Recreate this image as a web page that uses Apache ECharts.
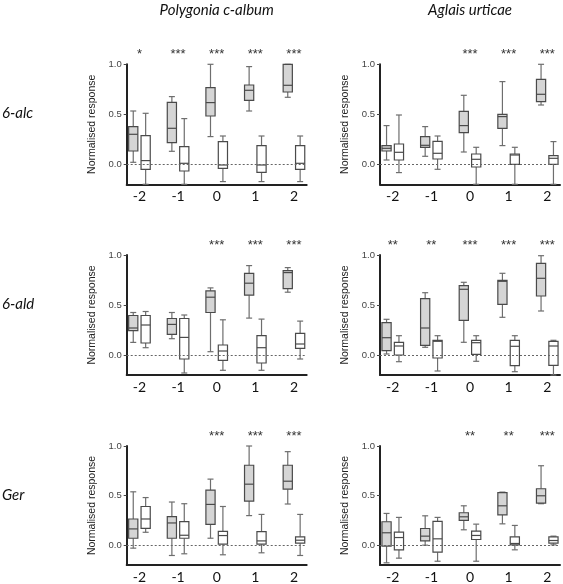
<!DOCTYPE html>
<html>
<head>
<meta charset="utf-8">
<script src="https://cdn.jsdelivr.net/npm/echarts@6/dist/echarts.min.js"></script>
<style>
html,body{margin:0;padding:0;background:#fff;}
#chart{width:563px;height:584px;}
</style>
</head>
<body>
<div id="chart"></div>
<script>
// Categories (time points) and axis ticks
const categories = [-2, -1, 0, 1, 2];
const yTickValues = [0, 0.5, 1.0];
const columnTitles = ["Polygonia c-album", "Aglais urticae"];
const rowTitles = ["6-alc", "6-ald", "Ger"];

// Box data: [min, Q1, median, Q3, max] per category
const polyAlcGray  = [[0.02,0.133,0.30,0.377,0.533],[0.13,0.217,0.36,0.62,0.677],[0.277,0.483,0.617,0.767,1.0],[0.533,0.64,0.74,0.793,0.977],[0.67,0.723,0.79,1.0,1.0]];
const polyAlcWhite = [[-0.2,-0.05,0.037,0.287,0.51],[-0.2,-0.067,0.01,0.177,0.457],[-0.173,-0.04,-0.007,0.227,0.283],[-0.173,-0.08,-0.007,0.187,0.283],[-0.173,-0.05,0.01,0.187,0.283]];
const aglAlcGray   = [[0.043,0.133,0.16,0.187,0.387],[0.08,0.17,0.19,0.277,0.377],[0.123,0.317,0.387,0.53,0.69],[0.187,0.36,0.477,0.5,0.827],[0.593,0.627,0.70,0.85,1.0]];
const aglAlcWhite  = [[-0.083,0.043,0.12,0.203,0.493],[-0.05,0.053,0.11,0.23,0.283],[-0.2,-0.027,0.05,0.103,0.17],[-0.2,0.0,0.093,0.103,0.17],[-0.2,0.0,0.06,0.087,0.227]];
const polyAldGray  = [[0.126,0.243,0.27,0.395,0.425],[0.163,0.206,0.306,0.365,0.425],[0.033,0.425,0.578,0.641,0.671],[0.369,0.598,0.718,0.817,0.894],[0.628,0.664,0.824,0.844,0.874]];
const polyAldWhite = [[0.073,0.12,0.30,0.395,0.435],[-0.18,-0.04,0.176,0.365,0.40],[-0.153,-0.053,0.04,0.10,0.352],[-0.153,-0.08,0.073,0.193,0.359],[-0.04,0.066,0.11,0.216,0.339]];
const aglAldGray   = [[0.01,0.043,0.173,0.323,0.357],[0.077,0.097,0.27,0.563,0.623],[0.127,0.347,0.657,0.693,0.727],[0.377,0.507,0.737,0.747,0.817],[0.44,0.59,0.767,0.917,0.993]];
const aglAldWhite  = [[-0.067,0.0,0.09,0.127,0.193],[-0.16,-0.03,0.137,0.147,0.193],[-0.063,0.007,0.123,0.147,0.193],[-0.167,-0.107,0.087,0.147,0.193],[-0.2,-0.103,0.09,0.137,0.147]];
const polyGerGray  = [[-0.03,0.07,0.164,0.264,0.538],[-0.104,0.07,0.224,0.288,0.435],[0.07,0.21,0.411,0.555,0.666],[0.298,0.445,0.615,0.806,1.0],[0.415,0.565,0.645,0.806,0.943]];
const polyGerWhite = [[0.13,0.17,0.264,0.39,0.48],[-0.087,0.07,0.10,0.237,0.418],[-0.097,0.01,0.097,0.14,0.39],[-0.077,0.01,0.043,0.137,0.31],[-0.104,0.02,0.05,0.084,0.31]];
const aglGerGray   = [[-0.178,-0.01,0.125,0.236,0.32],[0.0,0.044,0.091,0.168,0.296],[0.155,0.249,0.286,0.327,0.397],[0.215,0.306,0.397,0.529,0.535],[0.418,0.424,0.498,0.569,0.801]];
const aglGerWhite  = [[-0.131,-0.047,0.077,0.131,0.28],[-0.162,-0.071,0.064,0.239,0.28],[-0.162,0.057,0.098,0.141,0.212],[-0.047,0.003,0.017,0.084,0.199],[0.003,0.02,0.047,0.084,0.091]];

// Significance labels
const polyAlcStars = ["*","***","***","***","***"];
const aglAlcStars  = ["","","***","***","***"];
const polyAldStars = ["","","***","***","***"];
const aglAldStars  = ["**","**","***","***","***"];
const polyGerStars = ["","","***","***","***"];
const aglGerStars  = ["","","**","**","***"];

const panels = [
  {gray: polyAlcGray, white: polyAlcWhite, stars: polyAlcStars},
  {gray: aglAlcGray,  white: aglAlcWhite,  stars: aglAlcStars},
  {gray: polyAldGray, white: polyAldWhite, stars: polyAldStars},
  {gray: aglAldGray,  white: aglAldWhite,  stars: aglAldStars},
  {gray: polyGerGray, white: polyGerWhite, stars: polyGerStars},
  {gray: aglGerGray,  white: aglGerWhite,  stars: aglGerStars}
];

const gridLefts = [126.7, 380];
const gridTops = [64.3, 255, 446];
const GRID_W = 180, GRID_H = 120;

const chart = echarts.init(document.getElementById('chart'), null, {renderer: 'canvas'});

function boxRenderer(offsetPx, fill) {
  return function (params, api) {
    const x = api.value(0);
    const pMin = api.coord([x, api.value(1)]);
    const pQ1 = api.coord([x, api.value(2)]);
    const pMed = api.coord([x, api.value(3)]);
    const pQ3 = api.coord([x, api.value(4)]);
    const pMax = api.coord([x, api.value(5)]);
    const cx = pMed[0] + offsetPx;
    const hw = 4.6, cap = 3;
    const whisk = {stroke: '#6e6e6e', lineWidth: 1.2};
    const border = {stroke: '#4a4a4a', lineWidth: 1.2};
    return {
      type: 'group',
      children: [
        {type: 'line', shape: {x1: cx, y1: pMax[1], x2: cx, y2: pQ3[1]}, style: whisk},
        {type: 'line', shape: {x1: cx, y1: pQ1[1], x2: cx, y2: pMin[1]}, style: whisk},
        {type: 'line', shape: {x1: cx - cap, y1: pMax[1], x2: cx + cap, y2: pMax[1]}, style: whisk},
        {type: 'line', shape: {x1: cx - cap, y1: pMin[1], x2: cx + cap, y2: pMin[1]}, style: whisk},
        {type: 'rect', shape: {x: cx - hw, y: pQ3[1], width: hw * 2, height: pQ1[1] - pQ3[1]},
          style: {fill: fill, stroke: '#4a4a4a', lineWidth: 1.2}},
        {type: 'line', shape: {x1: cx - hw, y1: pMed[1], x2: cx + hw, y2: pMed[1]}, style: border}
      ]
    };
  };
}

const grids = [], xAxes = [], yAxes = [], series = [];
panels.forEach((p, i) => {
  const col = i % 2, row = Math.floor(i / 2);
  grids.push({left: gridLefts[col], top: gridTops[row], width: GRID_W, height: GRID_H});
  xAxes.push({
    type: 'value', gridIndex: i, min: -2.33, max: 2.33,
    axisLine: {show: true, onZero: false, lineStyle: {color: '#222', width: 2}},
    axisTick: {show: false},
    splitLine: {show: false},
    axisLabel: {customValues: categories, formatter: v => String(v), fontFamily: 'Lato', fontSize: 14, color: '#111', margin: 5}
  });
  yAxes.push({
    type: 'value', gridIndex: i, min: -0.2, max: 1.0,
    name: 'Normalised response', nameLocation: 'middle', nameGap: 29,
    nameTextStyle: {fontFamily: 'Liberation Sans', fontSize: 10.5, color: '#222'},
    axisLine: {show: true, onZero: false, lineStyle: {color: '#222', width: 2}},
    axisTick: {show: true, customValues: yTickValues, length: 3, lineStyle: {color: '#444'}},
    splitLine: {show: false},
    axisLabel: {customValues: yTickValues, formatter: v => v.toFixed(1), fontFamily: 'Liberation Sans', fontSize: 9.5, color: '#444', margin: 5}
  });
  series.push({
    type: 'custom', xAxisIndex: i, yAxisIndex: i, clip: false,
    renderItem: boxRenderer(-6.2, '#d5d5d5'),
    encode: {x: 0, y: [1, 2, 3, 4, 5]},
    data: categories.map((c, k) => [c].concat(p.gray[k])),
    markLine: {
      silent: true, symbol: 'none', label: {show: false},
      lineStyle: {type: [2, 2], color: '#666', width: 1},
      data: [{yAxis: 0}]
    },
    z: 3
  });
  series.push({
    type: 'custom', xAxisIndex: i, yAxisIndex: i, clip: false,
    renderItem: boxRenderer(6.2, '#ffffff'),
    encode: {x: 0, y: [1, 2, 3, 4, 5]},
    data: categories.map((c, k) => [c].concat(p.white[k])),
    z: 3
  });
  series.push({
    type: 'custom', xAxisIndex: i, yAxisIndex: i, clip: false,
    renderItem: function (params, api) {
      const pt = api.coord([api.value(0), 1.0]);
      return {
        type: 'text',
        style: {x: pt[0], y: params.coordSys.y - 10, text: p.stars[params.dataIndex],
          fill: '#333', font: '13px "Liberation Sans"', align: 'center', verticalAlign: 'middle'}
      };
    },
    encode: {x: 0},
    data: categories.map(c => [c]),
    z: 3
  });
});

const graphics = [];
columnTitles.forEach((t, c) => {
  graphics.push({type: 'text', x: gridLefts[c] + GRID_W / 2, y: 10,
    style: {text: t, font: 'italic 15px Lato', fill: '#111', align: 'center', verticalAlign: 'middle'}});
});
rowTitles.forEach((t, r) => {
  graphics.push({type: 'text', x: 2, y: gridTops[r] + 49,
    style: {text: t, font: 'italic 15px Lato', fill: '#111', align: 'left', verticalAlign: 'middle'}});
});

chart.setOption({
  animation: false,
  backgroundColor: '#fff',
  grid: grids,
  xAxis: xAxes,
  yAxis: yAxes,
  series: series,
  graphic: graphics
});
</script>
</body>
</html>
